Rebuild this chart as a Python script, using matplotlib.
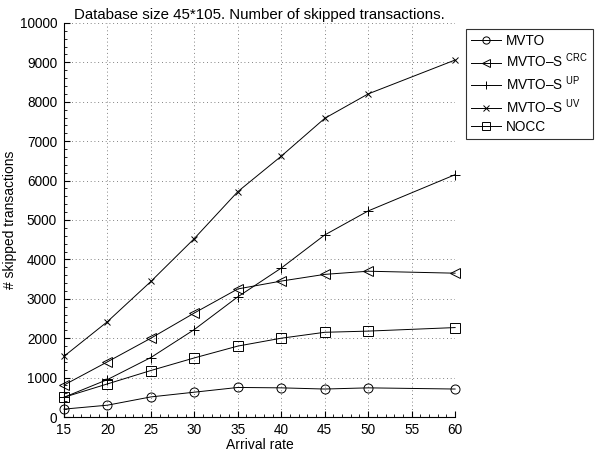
import matplotlib
matplotlib.use('Agg')
import matplotlib.pyplot as plt
from matplotlib.ticker import MultipleLocator

plt.rcParams['font.family'] = ['Liberation Sans', 'DejaVu Sans']
plt.rcParams['mathtext.fontset'] = 'custom'
plt.rcParams['mathtext.rm'] = 'Liberation Sans'
plt.rcParams['mathtext.it'] = 'Liberation Sans'

rate = [15, 20, 25, 30, 35, 40, 45, 50, 60]

mvto = [200, 300, 510, 630, 750, 740, 710, 740, 710]
mvto_crc = [810, 1400, 2000, 2640, 3250, 3450, 3620, 3700, 3650]
mvto_up = [500, 950, 1510, 2220, 3050, 3780, 4620, 5230, 6150]
mvto_uv = [1540, 2420, 3440, 4530, 5720, 6620, 7580, 8200, 9060]
nocc = [500, 840, 1180, 1500, 1800, 2000, 2150, 2180, 2270]

labels = ['MVTO', 'MVTO–S $^{\\mathrm{CRC}}$', 'MVTO–S $^{\\mathrm{UP}}$',
          'MVTO–S $^{\\mathrm{UV}}$', 'NOCC']
markers = ['o', '<', '+', 'x', 's']
sizes = [6.5, 6.5, 7, 5, 6.5]

fig = plt.figure(figsize=(6.15, 4.55), dpi=100)
ax = fig.add_axes([0.104, 0.0835, 0.636, 0.866])

for y, lab, m, s in zip([mvto, mvto_crc, mvto_up, mvto_uv, nocc], labels, markers, sizes):
    ax.plot(rate, y, color='black', lw=0.7, marker=m, ms=s,
            mfc='none', mec='black', mew=0.7, label=lab, clip_on=False, zorder=3)

ax.set_xlim(15, 60)
ax.set_ylim(0, 10000)
ax.set_xticks(range(15, 61, 5))
ax.set_yticks(range(0, 10001, 1000))
ax.xaxis.set_minor_locator(MultipleLocator(1))
ax.yaxis.set_minor_locator(MultipleLocator(200))
ax.tick_params(which='both', direction='in', labelsize=9.8)
ax.tick_params(axis='x', pad=4)
ax.tick_params(axis='y', pad=5)
ax.tick_params(which='major', length=4)
ax.tick_params(which='minor', length=2)
ax.spines['top'].set_visible(False)
ax.spines['right'].set_visible(False)
ax.grid(True, linestyle=(0, (1, 3.5)), color='0.35', lw=0.6)

ax.set_title('Database size 45*105. Number of skipped transactions.', fontsize=10.8, pad=3)
ax.set_xlabel('Arrival rate', fontsize=10, labelpad=1)
ax.set_ylabel('# skipped transactions', fontsize=10, labelpad=2)

leg = ax.legend(loc='upper left', bbox_to_anchor=(466 / 615, 1 - 29 / 455),
                bbox_transform=fig.transFigure, fontsize=9.8, frameon=True,
                fancybox=False, edgecolor='black', borderaxespad=0,
                handlelength=2.2, handletextpad=0.4, labelspacing=0.3,
                borderpad=0.35, markerscale=0.8)
leg.get_frame().set_linewidth(0.8)

fig.savefig('out.png', dpi=100)
